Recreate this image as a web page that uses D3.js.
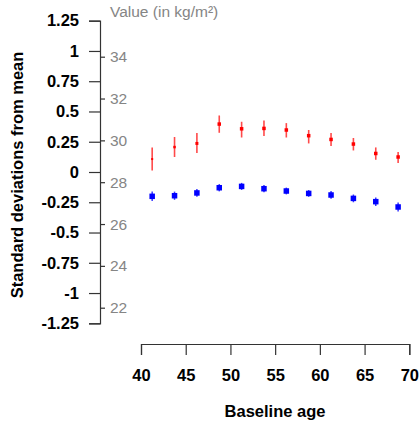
<!DOCTYPE html>
<html><head><meta charset="utf-8">
<script src="https://cdn.jsdelivr.net/npm/d3@7"></script>
<style>body{margin:0;background:#fff}svg{display:block}text{font-family:"Liberation Sans",Arial,sans-serif}</style>
</head><body>
<script>
const ages = [41.25, 43.75, 46.25, 48.75, 51.25, 53.75, 56.25, 58.75, 61.25, 63.75, 66.25, 68.75];
const redMean = [0.107, 0.206, 0.236, 0.396, 0.357, 0.360, 0.347, 0.300, 0.269, 0.231, 0.153, 0.124];
const redLow  = [0.013, 0.124, 0.157, 0.324, 0.285, 0.297, 0.285, 0.236, 0.215, 0.178, 0.101, 0.074];
const redHigh = [0.203, 0.289, 0.322, 0.467, 0.415, 0.426, 0.404, 0.347, 0.322, 0.281, 0.203, 0.165];
const redSize = [2, 2.5, 3, 3.5, 3.5, 3.5, 3.5, 3.5, 3.5, 3.5, 3.5, 3.5];
const blueMean = [-0.201, -0.196, -0.173, -0.130, -0.119, -0.138, -0.157, -0.177, -0.190, -0.218, -0.245, -0.289];
const blueLow  = [-0.240, -0.230, -0.205, -0.160, -0.148, -0.168, -0.185, -0.205, -0.222, -0.250, -0.280, -0.326];
const blueHigh = [-0.162, -0.162, -0.141, -0.100, -0.090, -0.108, -0.129, -0.149, -0.158, -0.186, -0.210, -0.252];
const blueSize = [5.5, 5.5, 5.5, 5.5, 5.5, 5.5, 5.5, 5.5, 5.5, 5.5, 5.5, 5.5];
const sdTicks = [1.25, 1, 0.75, 0.5, 0.25, 0, -0.25, -0.5, -0.75, -1, -1.25];
const sdLabels = ["1.25", "1", "0.75", "0.5", "0.25", "0", "-0.25", "-0.5", "-0.75", "-1", "-1.25"];
const valueTicks = [34, 32, 30, 28, 26, 24, 22];
const ageTicks = [40, 45, 50, 55, 60, 65, 70];

const W = 419, H = 424;
const svg = d3.select("body").append("svg").attr("width", W).attr("height", H);

const y = d3.scaleLinear().domain([-1.25, 1.25]).range([323.3, 20.7]);
const yv = d3.scaleLinear().domain([22, 34]).range([307.7, 56.7]);
const x = d3.scaleLinear().domain([40, 70]).range([141, 409.3]);

// Left SD axis
const gL = svg.append("g").attr("transform", "translate(100,0)")
  .call(d3.axisLeft(y).tickValues(sdTicks).tickSize(11).tickPadding(10)
    .tickFormat((d, i) => sdLabels[i]));
gL.select(".domain").attr("stroke", "#333").attr("stroke-width", 1.2);
gL.selectAll(".tick line").attr("stroke", "#333").attr("stroke-width", 1.2);
gL.selectAll(".tick text").attr("fill", "#000").attr("font-size", 16.5).attr("font-weight", "bold")
  .attr("font-family", "Liberation Sans, Arial, sans-serif");

// Right value ticks (secondary)
const gR = svg.append("g").attr("transform", "translate(100,0)")
  .call(d3.axisRight(yv).tickValues(valueTicks).tickSize(5).tickPadding(5));
gR.select(".domain").remove();
gR.selectAll(".tick line").attr("stroke", "#333").attr("stroke-width", 1.2);
gR.selectAll(".tick text").attr("fill", "#858585").attr("font-size", 15.5)
  .attr("font-family", "Liberation Sans, Arial, sans-serif");

svg.append("text").attr("x", 110).attr("y", 17).attr("fill", "#858585")
  .attr("font-size", 15.5).text("Value (in kg/m²)");

// X axis
const gX = svg.append("g").attr("transform", "translate(0,344)")
  .call(d3.axisBottom(x).tickValues(ageTicks).tickSize(11).tickPadding(14).tickSizeOuter(11));
gX.select(".domain").attr("stroke", "#333").attr("stroke-width", 1.2);
gX.selectAll(".tick line").attr("stroke", "#333").attr("stroke-width", 1.2);
gX.selectAll(".tick text").attr("fill", "#000").attr("font-size", 16.5).attr("font-weight", "bold")
  .attr("font-family", "Liberation Sans, Arial, sans-serif");

svg.append("text").attr("x", 275).attr("y", 417).attr("text-anchor", "middle")
  .attr("font-size", 16.5).attr("font-weight", "bold").text("Baseline age");

svg.append("text").attr("transform", "translate(23,175) rotate(-90)").attr("text-anchor", "middle")
  .attr("font-size", 16.5).attr("font-weight", "bold").text("Standard deviations from mean");

// Data
const red = ages.map((a, i) => ({a, m: redMean[i], lo: redLow[i], hi: redHigh[i], s: redSize[i]}));
const blue = ages.map((a, i) => ({a, m: blueMean[i], lo: blueLow[i], hi: blueHigh[i], s: blueSize[i]}));

svg.append("g").selectAll("line").data(blue).join("line")
  .attr("x1", d => x(d.a)).attr("x2", d => x(d.a))
  .attr("y1", d => y(d.lo)).attr("y2", d => y(d.hi))
  .attr("stroke", "#3a3aff").attr("stroke-width", 1.5);
svg.append("g").selectAll("rect").data(blue).join("rect")
  .attr("x", d => x(d.a) - d.s / 2).attr("y", d => y(d.m) - d.s / 2)
  .attr("width", d => d.s).attr("height", d => d.s).attr("fill", "#0000ff");

svg.append("g").selectAll("line").data(red).join("line")
  .attr("x1", d => x(d.a)).attr("x2", d => x(d.a))
  .attr("y1", d => y(d.lo)).attr("y2", d => y(d.hi))
  .attr("stroke", "#ff4a4a").attr("stroke-width", 1.6);
svg.append("g").selectAll("rect").data(red).join("rect")
  .attr("x", d => x(d.a) - d.s / 2).attr("y", d => y(d.m) - d.s / 2)
  .attr("width", d => d.s).attr("height", d => d.s).attr("fill", "#ff0000");
</script>
</body></html>
